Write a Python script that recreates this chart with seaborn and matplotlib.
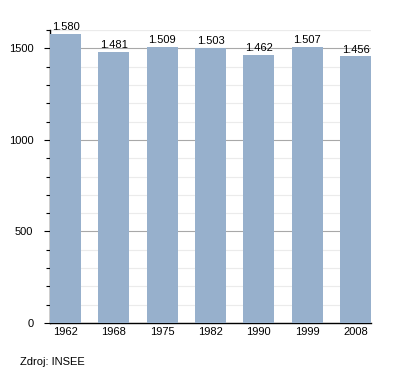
import matplotlib
matplotlib.use("Agg")
import matplotlib.pyplot as plt
import seaborn as sns
import pandas as pd
from matplotlib.ticker import MultipleLocator

years = ["1962", "1968", "1975", "1982", "1990", "1999", "2008"]
population = [1580, 1481, 1509, 1503, 1462, 1507, 1456]
labels = ["1.580", "1.481", "1.509", "1.503", "1.462", "1.507", "1.456"]
source = "Zdroj: INSEE"

sns.set_style("white")
plt.rcParams["font.family"] = ["Liberation Sans", "DejaVu Sans"]
plt.rcParams["text.color"] = "black"
plt.rcParams["xtick.color"] = "black"
plt.rcParams["ytick.color"] = "black"

df = pd.DataFrame({"year": years, "pop": population})

fig = plt.figure(figsize=(4.0, 3.73), dpi=100)
ax = fig.add_axes([0.125, 0.134, 0.8025, 0.7856])

sns.barplot(data=df, x="year", y="pop", color="#97b0cc", saturation=1,
            width=0.64, ax=ax, zorder=3, edgecolor="none", linewidth=0)

ax.set_xlim(-0.32, 6.32)
ax.set_ylim(0, 1600)
ax.yaxis.set_major_locator(MultipleLocator(500))
ax.yaxis.set_minor_locator(MultipleLocator(100))
ax.grid(axis="y", which="major", color="#a8a8a8", linewidth=0.8, zorder=1)
ax.grid(axis="y", which="minor", color="#ebebeb", linewidth=0.8, zorder=0)
ax.axhline(1600, color="#e0e0e0", linewidth=0.8, zorder=0)
ax.set_axisbelow(True)

for s in ["top", "right"]:
    ax.spines[s].set_visible(False)
for s in ["left", "bottom"]:
    ax.spines[s].set_color("black")
    ax.spines[s].set_linewidth(1.0)

ax.tick_params(axis="y", which="major", direction="out", length=4, width=0.8,
               color="black", labelcolor="black", labelsize=8, pad=8, left=True)
ax.tick_params(axis="y", which="minor", direction="out", length=3, width=0.8,
               color="black", left=True)
ax.tick_params(axis="x", length=0, labelsize=8, labelcolor="black", pad=3)
ax.set_xlabel("")
ax.set_ylabel("")

for i, (v, t) in enumerate(zip(population, labels)):
    ax.text(i, v + 10, t, ha="center", va="bottom", fontsize=8, color="black")

fig.text(0.05, 0.03, source, fontsize=8, ha="left", va="center", color="black")

fig.savefig("out.png", dpi=100)
